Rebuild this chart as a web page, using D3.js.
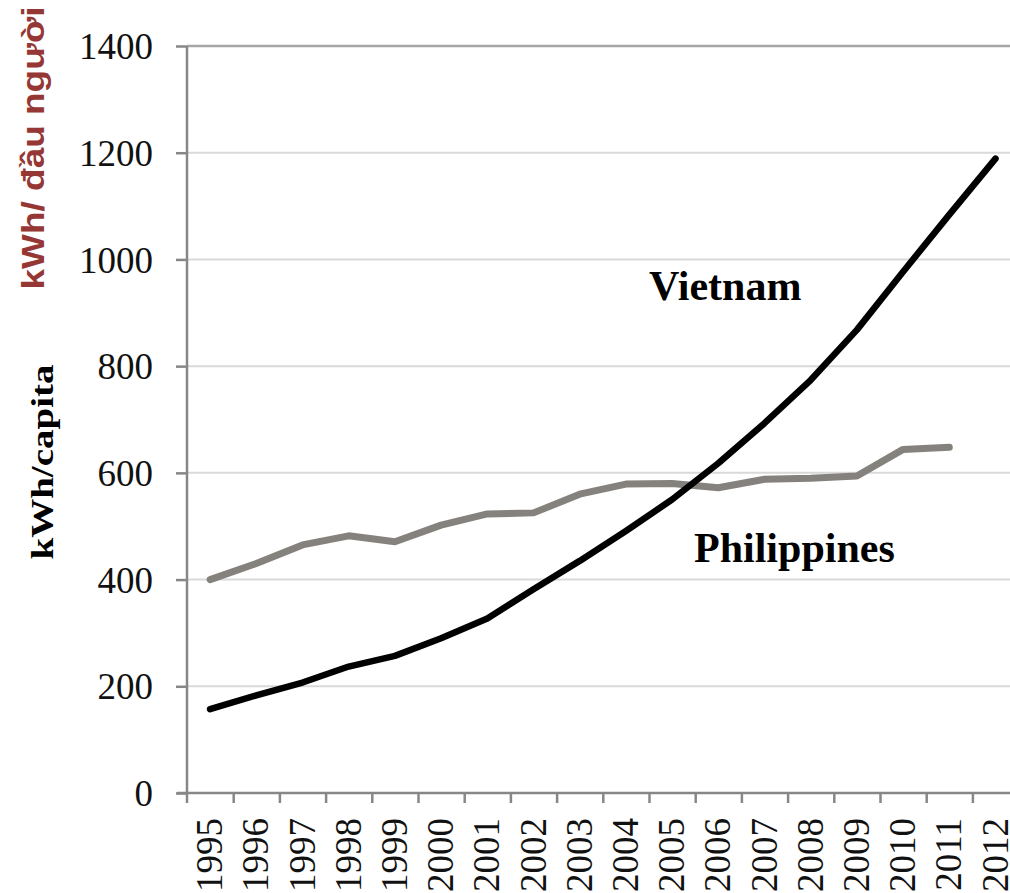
<!DOCTYPE html>
<html>
<head>
<meta charset="utf-8">
<script src="https://cdn.jsdelivr.net/npm/d3@7"></script>
<style>
  html, body { margin: 0; padding: 0; background: #fff; }
  svg { display: block; }
</style>
</head>
<body>
<svg id="chart" width="1010" height="893"></svg>
<script>
'use strict';

const years = ["1995","1996","1997","1998","1999","2000","2001","2002","2003",
  "2004","2005","2006","2007","2008","2009","2010","2011","2012"];
const vietnam = [157, 183, 207, 237, 257, 290, 327, 382, 435,
  491, 550, 618, 693, 774, 868, 977, 1084, 1189];
const philippines = [400, 430, 465, 482, 471, 502, 523, 525, 560,
  579, 580, 572, 588, 590, 594, 644, 648, null];
const yTicks = [0, 200, 400, 600, 800, 1000, 1200, 1400];

const svg = d3.select("#chart");
const plotLeft = 187, plotRight = 1018.6, plotTop = 46, plotBottom = 793;

const x = d3.scaleBand().domain(years).range([plotLeft, plotRight]).padding(0);
const xEdge = d3.scaleLinear().domain([0, years.length]).range([plotLeft, plotRight]);
const y = d3.scaleLinear().domain([0, 1400]).range([plotBottom, plotTop]);

// gridlines
svg.append("g")
  .selectAll("line")
  .data(yTicks.filter(d => d > 0))
  .enter()
  .append("line")
  .attr("x1", plotLeft)
  .attr("x2", 1010)
  .attr("y1", d => y(d))
  .attr("y2", d => y(d))
  .attr("stroke", d => d === 1400 ? "#a6a6a6" : "#d9d9d9")
  .attr("stroke-width", d => d === 1400 ? 2.5 : 2);

// y axis
const yAxis = svg.append("g")
  .attr("transform", `translate(${plotLeft},0)`)
  .call(d3.axisLeft(y).tickValues(yTicks).tickSize(11).tickFormat(d3.format("d")));
yAxis.select(".domain").remove();
yAxis.selectAll(".tick line").attr("stroke", "#878787").attr("stroke-width", 2.5);
yAxis.selectAll(".tick text")
  .attr("x", -34)
  .attr("dy", "0.34em")
  .attr("fill", "#111")
  .style("font-family", "'Liberation Serif', 'Times New Roman', serif")
  .style("font-size", "37px");
svg.append("line")
  .attr("x1", plotLeft).attr("x2", plotLeft)
  .attr("y1", plotTop).attr("y2", plotBottom + 10)
  .attr("stroke", "#878787").attr("stroke-width", 2.5);

// x axis (ticks at category boundaries)
const xAxis = svg.append("g")
  .attr("transform", `translate(0,${plotBottom})`)
  .call(d3.axisBottom(xEdge).tickValues(d3.range(1, years.length + 1)).tickSize(10).tickFormat(""));
xAxis.select(".domain").remove();
xAxis.selectAll(".tick line").attr("stroke", "#878787").attr("stroke-width", 2.5);
svg.append("line")
  .attr("x1", plotLeft - 10).attr("x2", 1010)
  .attr("y1", plotBottom).attr("y2", plotBottom)
  .attr("stroke", "#878787").attr("stroke-width", 2.5);

svg.append("g")
  .selectAll("text")
  .data(years)
  .enter()
  .append("text")
  .attr("transform", d => `translate(${x(d) + x.bandwidth() / 2 + 12},818) rotate(-90)`)
  .attr("text-anchor", "end")
  .attr("fill", "#111")
  .style("font-family", "'Liberation Serif', 'Times New Roman', serif")
  .style("font-size", "37px")
  .text(d => d);

// lines
const line = d3.line()
  .defined(d => d[1] != null)
  .x(d => x(d[0]) + x.bandwidth() / 2)
  .y(d => y(d[1]));

svg.append("path")
  .datum(years.map((yr, i) => [yr, philippines[i]]))
  .attr("fill", "none")
  .attr("stroke", "#85827e")
  .attr("stroke-width", 7)
  .attr("stroke-linejoin", "round")
  .attr("stroke-linecap", "round")
  .attr("d", line);

svg.append("path")
  .datum(years.map((yr, i) => [yr, vietnam[i]]))
  .attr("fill", "none")
  .attr("stroke", "#000")
  .attr("stroke-width", 6.5)
  .attr("stroke-linejoin", "round")
  .attr("stroke-linecap", "round")
  .attr("d", line);

// series labels
svg.append("text")
  .attr("x", 649).attr("y", 300)
  .style("font-family", "'Liberation Serif', 'Times New Roman', serif")
  .style("font-weight", "bold")
  .style("font-size", "42px")
  .text("Vietnam");

svg.append("text")
  .attr("x", 694).attr("y", 562)
  .style("font-family", "'Liberation Serif', 'Times New Roman', serif")
  .style("font-weight", "bold")
  .style("font-size", "42px")
  .text("Philippines");

// axis titles
svg.append("text")
  .attr("transform", "translate(53,462) rotate(-90)")
  .attr("text-anchor", "middle")
  .attr("textLength", 195)
  .attr("lengthAdjust", "spacingAndGlyphs")
  .style("font-family", "'Liberation Serif', 'Times New Roman', serif")
  .style("font-weight", "bold")
  .style("font-size", "31px")
  .text("kWh/capita");

svg.append("text")
  .attr("transform", "translate(44,148) rotate(-90)")
  .attr("text-anchor", "middle")
  .attr("textLength", 283)
  .attr("lengthAdjust", "spacingAndGlyphs")
  .attr("fill", "#953735")
  .style("font-family", "'Liberation Sans', Arial, sans-serif")
  .style("font-weight", "bold")
  .style("font-size", "31px")
  .text("kWh/ đầu người");
</script>
</body>
</html>
